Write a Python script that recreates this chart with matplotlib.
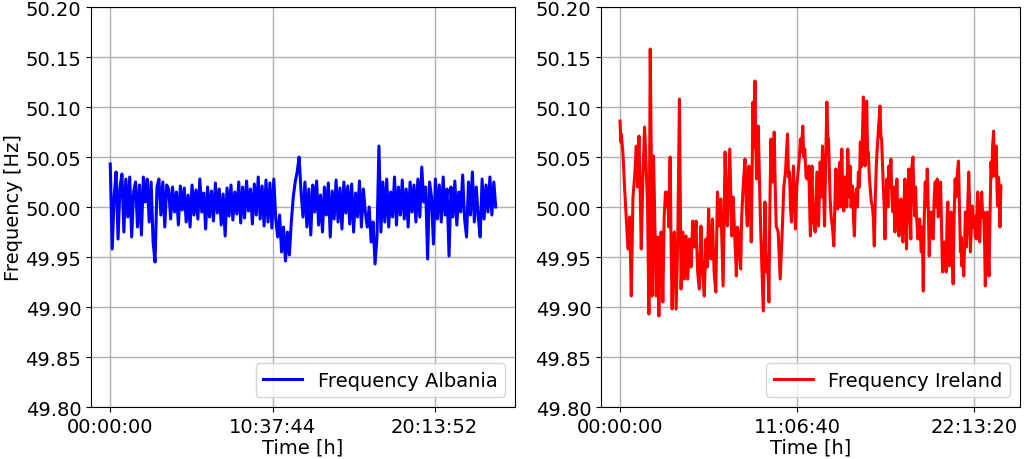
import numpy as np
import matplotlib
matplotlib.use("Agg")
import matplotlib.pyplot as plt
from matplotlib.ticker import FuncFormatter

# ---------------- data (frequency deviation from 50 Hz, in mHz) ----------------
albania_dev_mhz = [
    43, -42, 10, 35, -32, 20, 33, -25, 28, -10, 30, -30, 15, 25, -20, 22, -28, 30, 5, 28,
    -15, 25, -35, -55, 20, 28, -8, 25, -20, 22,
    18, -12, 20, -5, 15, -18, 21, -3, 19, -15, 12, -20, 22, -8, 17, -12, 28, -5, 14, -22,
    20, -10, 16, -14, 24, -6, 18, -18, 13, -29, 19, -9, 22, -13, 15, -7, 25, -16, 20, -11,
    26, -4, 18, -17, 23, -8, 30, -12, 21, -19, 27, -15, 24, -21, 28,
    -12, -30, -8, -45, -20, -54, -25, -48, -15,
    10, 25, 35, 50,
    15, -10, 25, -20, 18, -28, 22, -5, 26, -18, 12, -25, 20, -8, 24, -30, 16, -12, 27, -15,
    19, -22, 25, -6, 21, -17, 23, -25, 14, -10, 26, -20, 18, -5,
    -20, 0, -35, -15, -57, -30, 61,
    -25, 25, -15, 28, -20, 15, -10, 30, -18, 20, -8, 27, -12, 18, -20, 25, -5, 22, -15, 28,
    -10, 40, 5, 20, -52, 25, 10, -37, 28, -12, 22, -15, 30, -8, 18, -49, 20, -10, 26, -18,
    15, -5, 32, -12, -30, 25, -8, 35, -15, 20, -10, -30, 28, -12, 22, -5, 30, -8, 25, 0,
]
albania_sample_step = 12  # samples between stored points
albania_tick_samples = [0, 1000, 2000]
albania_tick_labels = ["00:00:00", "10:37:44", "20:13:52"]

ireland_time_s = [
    0, 200, 300, 680, 1050, 1430, 1800, 2180, 2550, 2930, 3380, 3680, 3980, 4280, 4580, 4800,
    5180, 5550, 5930, 6230, 6530, 6830, 7050, 7280, 7580, 7880, 8180, 8480, 8780, 9080, 9300,
    9680, 9980, 10280, 10580, 10800, 11030, 11330, 11550, 11780, 12080, 12300, 12680, 13050,
    13430, 13800, 14180, 14550, 14930, 15300, 15680, 16050, 16430, 16800, 17180, 17550, 17930,
    18300, 18680, 19050, 19430, 19730, 20030, 20330, 20550,
    20900, 21270, 21650, 22020, 22400, 22770, 23000, 23300, 23750, 24050, 24270, 24800, 25250,
    25550, 25770, 26300, 26520, 26750, 27050, 27270, 27500, 27800, 28250, 28550, 28770, 29150,
    29450, 29670, 30050, 30270, 30500, 30650, 30870, 31250, 31550, 31770, 32150, 32380, 32750,
    33120, 33350, 33650, 33870, 34100, 34330, 34550, 34850, 35080, 35300, 35750, 36200, 36650,
    37020, 37400, 37850, 38070, 38300, 38520, 38750, 39200, 39420, 39650, 39950, 40250, 40550,
    40770, 41000, 41300, 41520, 41750, 42050, 42270, 42650, 43020,
    43370, 43600, 43740, 44120, 44490, 44870, 45240, 45470, 45770, 45990, 46220, 46520, 46740,
    46970, 47120, 47490, 47720, 48020, 48320, 48620, 48770, 49000, 49220, 49450, 49670, 49900,
    50120, 50350, 50570, 50800, 51020, 51250, 51470, 51770, 52000, 52220, 52520, 52750, 52970,
    53200, 53420, 53650, 53870, 54100, 54320, 54470, 54620, 55000, 55220, 55370, 55600, 55750,
    55970, 56120, 56350, 56570, 56800, 57020, 57250, 57470, 57700, 57920, 58150, 58370, 58600,
    58750, 58970, 59120, 59350, 59500, 59720, 59870, 60100, 60320, 60550, 60770, 61000, 61220,
    61450, 61670, 61900, 62120, 62350, 62570, 62800, 63020, 63250, 63470, 63700, 63920, 64150,
    64370, 64600, 64740, 64970, 65270, 65490, 65720,
    65840, 66210, 66440, 66590, 66810, 66960, 67340, 67710, 68090, 68310, 68540, 68760, 68990,
    69210, 69440, 69660, 69890, 70110, 70340, 70560, 70790, 71010, 71240, 71460, 71690, 71910,
    72140, 72290, 72440, 72660, 72890, 73110, 73340, 73560, 73710, 73940, 74090, 74310, 74460,
    74690, 74840, 75060, 75290, 75510, 75740, 75960, 76190, 76490, 76710, 76940, 77090, 77240,
    77460, 77690, 77910, 78060, 78290, 78440, 78660, 78810, 79040, 79190, 79410, 79640, 79860,
    80090, 80310, 80540, 80690, 80840, 81060, 81290, 81510, 81740, 81960, 82190, 82410, 82560,
    82790, 82940, 83160, 83390, 83610, 83840, 84060, 84210, 84440, 84590, 84740, 84890, 85040,
    85190, 85340, 85490, 85640, 85860, 86090,
]
ireland_dev_mhz = [
    86, 65, 73, 52, 18, -12, -42, -10, -89, 10, 35, 61, 20, 71, 10, -42,
    30, 80, 38, 0, -107, 158, 60, -89, 51, -20, -89, -30, -109, -40, -25,
    -95, -10, 15, 0, 15, -20, 50, -40, -102, -30, -25, -102, -32,
    108, -82, -25, -72, -29, -72, -32, -60, -14, -40, -14, -65, -82,
    -19, -65, -89, -32, -60, -2, -50, -52,
    -12, -65, -85, 15, -19, 8, -30, -79, 55, 0, -19, 58, -29,
    10, -12, -69, -20, -25, -50, -62, -10, 18, 48, 0, -19, 41,
    0, -35, 105, 60, 126, 70, 28, 81, 20, -19, -72, -104, 5,
    -65, -50, -95, 0, 68, 30, 25, 75, 20, -19, -25, -72, -25,
    20, 35, 73, 30, 35, 0, -15, 41, 10, -22, 20, 35, 50,
    68, 55, 81, 50, 58, 30, 28, 41, -29,
    41, 0, -15, -25, 35, -19, 45, 10, 61, 20, -19, 50, 105,
    70, 68, 8, -10, -20, -39, 10, 38, 0, -2, 30, 45, 0,
    58, 10, -4, 30, 28, 0, 58, 10, 41, 0, 21, -10, -29,
    10, 18, 0, 35, 20, 65, 40, 41, 110, 60, 41, 90, 106,
    50, 55, 30, 18, 5, 1, -10, -39, 10, 41, 60, 75, 90,
    101, 70, 68, 40, 21, 0, -32, 10, 28, 0, 41, 20, 48,
    10, -5, 20, -25, 0, 28, -10, -29, 5, 8, -20, -35, 0,
    28, -10, -42, 0, 38, 0, -32,
    35, 50, 10, -9, 20, -5, -32, -12, -45, -20, -84, -10, 25,
    0, 38, 0, -49, -10, -5, -30, -32, 10, 25, 0, 28, -10,
    -5, 20, 25, -20, -65, -40, -35, -50, -65, -10, 5, -40, -59,
    -20, -5, -40, -77, -10, 28, 10, 31, 46, 0, -45, -30, -59,
    -50, -69, -30, -5, -40, -25, 10, 35, 0, -45, -20, 1, -20,
    -9, -30, -32, 0, 15, -20, -35, 0, 15, -10, -5, -40, -79,
    -30, -5, -40, -69, -10, 45, 30, 61, 76, 40, 31, 55, 61,
    20, 1, 30, 25, -20, 21,
]

nominal_hz = 50.0
y_ticks = [49.80, 49.85, 49.90, 49.95, 50.00, 50.05, 50.10, 50.15, 50.20]
ireland_tick_s = [0, 40000, 80000]

# ---------------- derived series ----------------
alb_x = np.arange(len(albania_dev_mhz)) * albania_sample_step
alb_f = nominal_hz + np.array(albania_dev_mhz) / 1000.0
ire_t = np.array(ireland_time_s, dtype=float)
ire_f = nominal_hz + np.array(ireland_dev_mhz) / 1000.0


def hms(s, pos=None):
    s = int(round(s))
    return "%02d:%02d:%02d" % (s // 3600, (s % 3600) // 60, s % 60)


plt.rcParams['font.family'] = ['DejaVu Sans']
plt.rcParams['font.size'] = 14

fig = plt.figure(figsize=(10.28, 4.60), dpi=100)
ax1 = fig.add_axes([0.0885, 0.113, 0.4125, 0.8696])
ax2 = fig.add_axes([0.5846, 0.113, 0.4076, 0.8696])

ax1.plot(alb_x, alb_f, color='blue', lw=2.2, label='Frequency Albania')
ax1.set_xticks(albania_tick_samples)
ax1.set_xticklabels(albania_tick_labels)
ax1.set_ylabel('Frequency [Hz]', labelpad=2)

ax2.plot(ire_t, ire_f, color='red', lw=2.2, label='Frequency Ireland')
ax2.set_xticks(ireland_tick_s)
ax2.xaxis.set_major_formatter(FuncFormatter(hms))

for ax in (ax1, ax2):
    ax.set_ylim(49.80, 50.20)
    ax.set_yticks(y_ticks)
    ax.yaxis.set_major_formatter(FuncFormatter(lambda v, p: "%.2f" % v))
    ax.set_xlabel('Time [h]', labelpad=1)
    ax.grid(True, color='#b0b0b0', lw=1.0)
    ax.set_axisbelow(True)
    ax.tick_params(labelsize=14)
    leg = ax.legend(loc='lower right', fontsize=14)

fig.savefig('out.png', dpi=100)
